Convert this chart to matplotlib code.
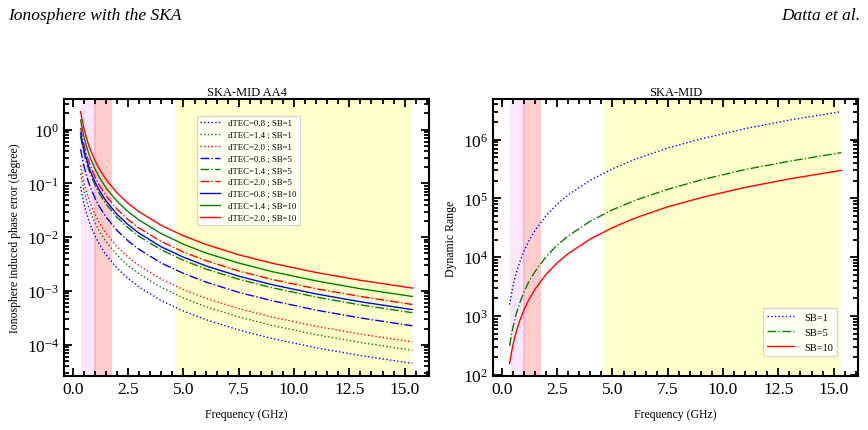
import matplotlib
matplotlib.use("Agg")
import matplotlib.pyplot as plt
from matplotlib.ticker import MultipleLocator, LogLocator, NullFormatter

plt.rcParams['font.family'] = ['Liberation Serif', 'DejaVu Serif']
plt.rcParams['mathtext.fontset'] = 'stix'

# Frequency samples (GHz)
freq = [0.35, 0.4, 0.5, 0.6, 0.7, 0.8, 1.0, 1.2, 1.5, 2.0, 2.5, 3.0,
        4.0, 5.0, 6.0, 7.5, 9.0, 11.0, 13.0, 15.35]

# Left panel: ionosphere induced phase error (degree)
err_08_sb1 = [0.0865, 0.0663, 0.0424, 0.0294, 0.0216, 0.0166, 0.0106, 0.00736, 0.00471, 0.00265,
              0.0017, 0.00118, 6.6e-4, 4.24e-4, 2.94e-4, 1.88e-4, 1.31e-4, 8.8e-5, 6.3e-5, 4.5e-5]
err_14_sb1 = [0.151, 0.116, 0.0742, 0.0515, 0.0378, 0.0291, 0.0186, 0.0129, 0.00824, 0.00464,
              0.00298, 0.00207, 1.16e-3, 7.4e-4, 5.1e-4, 3.3e-4, 2.29e-4, 1.54e-4, 1.10e-4, 7.9e-5]
err_20_sb1 = [0.216, 0.166, 0.106, 0.0735, 0.054, 0.0415, 0.0265, 0.0184, 0.0118, 0.00663,
              0.00425, 0.00295, 1.65e-3, 1.06e-3, 7.35e-4, 4.7e-4, 3.28e-4, 2.2e-4, 1.58e-4, 1.13e-4]
err_08_sb5 = [0.433, 0.332, 0.212, 0.147, 0.108, 0.083, 0.053, 0.0368, 0.0236, 0.0133,
              0.0085, 0.0059, 3.3e-3, 2.12e-3, 1.47e-3, 9.4e-4, 6.6e-4, 4.4e-4, 3.15e-4, 2.25e-4]
err_14_sb5 = [0.757, 0.58, 0.371, 0.257, 0.189, 0.145, 0.0928, 0.0644, 0.0412, 0.0232,
              0.0149, 0.0103, 5.8e-3, 3.71e-3, 2.57e-3, 1.65e-3, 1.15e-3, 7.7e-4, 5.5e-4, 3.94e-4]
err_20_sb5 = [1.08, 0.829, 0.53, 0.368, 0.27, 0.207, 0.1325, 0.092, 0.0589, 0.0331,
              0.0212, 0.0147, 8.3e-3, 5.3e-3, 3.68e-3, 2.35e-3, 1.64e-3, 1.1e-3, 7.9e-4, 5.6e-4]
err_08_sb10 = [0.865, 0.663, 0.424, 0.294, 0.216, 0.166, 0.106, 0.0736, 0.0471, 0.0265,
               0.017, 0.0118, 6.6e-3, 4.24e-3, 2.94e-3, 1.88e-3, 1.31e-3, 8.8e-4, 6.3e-4, 4.5e-4]
err_14_sb10 = [1.51, 1.16, 0.742, 0.515, 0.378, 0.291, 0.186, 0.129, 0.0824, 0.0464,
               0.0298, 0.0207, 0.0116, 7.4e-3, 5.1e-3, 3.3e-3, 2.29e-3, 1.54e-3, 1.10e-3, 7.9e-4]
err_20_sb10 = [2.16, 1.66, 1.06, 0.735, 0.54, 0.415, 0.265, 0.184, 0.118, 0.0663,
               0.0425, 0.0295, 0.0165, 0.0106, 7.35e-3, 4.7e-3, 3.28e-3, 2.2e-3, 1.58e-3, 1.13e-3]

# Right panel: dynamic range
dr_sb1 = [1.56e3, 2.0e3, 3.2e3, 4.6e3, 6.2e3, 8.1e3, 1.27e4, 1.83e4, 2.86e4, 5.1e4,
          8.0e4, 1.15e5, 2.04e5, 3.18e5, 4.6e5, 7.2e5, 1.03e6, 1.54e6, 2.15e6, 3.0e6]
dr_sb5 = [3.1e2, 4.1e2, 6.4e2, 9.2e2, 1.25e3, 1.63e3, 2.55e3, 3.7e3, 5.7e3, 1.02e4,
          1.6e4, 2.3e4, 4.1e4, 6.4e4, 9.2e4, 1.43e5, 2.06e5, 3.1e5, 4.3e5, 6.0e5]
dr_sb10 = [1.56e2, 2.0e2, 3.2e2, 4.6e2, 6.2e2, 8.1e2, 1.27e3, 1.83e3, 2.86e3, 5.1e3,
           8.0e3, 1.15e4, 2.04e4, 3.18e4, 4.6e4, 7.2e4, 1.03e5, 1.54e5, 2.15e5, 3.0e5]

# SKA-MID bands (GHz)
band1 = (0.35, 1.05)
band2 = (0.95, 1.76)
band5 = (4.6, 15.3)

fig = plt.figure(figsize=(8.68, 4.31), dpi=100)
ax1 = fig.add_axes([64 / 868, 1 - 377 / 431, 365 / 868, 277 / 431])
ax2 = fig.add_axes([493 / 868, 1 - 377 / 431, 365 / 868, 277 / 431])

fig.text(8 / 868, 1 - 16 / 431, 'Ionosphere with the SKA', style='italic',
         fontsize=12.5, va='center', ha='left')
fig.text(860 / 868, 1 - 16 / 431, 'Datta et al.', style='italic',
         fontsize=12.5, va='center', ha='right')


def shade(ax):
    ax.axvspan(*band1, color='violet', alpha=0.2, lw=0)
    ax.axvspan(*band2, color='red', alpha=0.2, lw=0)
    ax.axvspan(*band5, color='yellow', alpha=0.2, lw=0)


def style(ax):
    ax.set_yscale('log')
    ax.xaxis.set_major_locator(MultipleLocator(2.5))
    ax.xaxis.set_minor_locator(MultipleLocator(0.5))
    ax.yaxis.set_major_locator(LogLocator(base=10, numticks=20))
    ax.yaxis.set_minor_locator(LogLocator(base=10, subs=range(2, 10), numticks=20))
    ax.yaxis.set_minor_formatter(NullFormatter())
    ax.tick_params(which='both', direction='in', top=True, right=True, width=1.3)
    ax.tick_params(which='major', length=6, labelsize=12.5)
    ax.tick_params(which='minor', length=3.5)
    for s in ax.spines.values():
        s.set_linewidth(1.5)
    ax.set_xlabel('Frequency (GHz)', fontsize=8.5, labelpad=8)


shade(ax1)
left_series = [
    (err_08_sb1, 'b', ':', 'dTEC=0.8 ; SB=1'),
    (err_14_sb1, 'g', ':', 'dTEC=1.4 ; SB=1'),
    (err_20_sb1, 'r', ':', 'dTEC=2.0 ; SB=1'),
    (err_08_sb5, 'b', '-.', 'dTEC=0.8 ; SB=5'),
    (err_14_sb5, 'g', '-.', 'dTEC=1.4 ; SB=5'),
    (err_20_sb5, 'r', '-.', 'dTEC=2.0 ; SB=5'),
    (err_08_sb10, 'b', '-', 'dTEC=0.8 ; SB=10'),
    (err_14_sb10, 'g', '-', 'dTEC=1.4 ; SB=10'),
    (err_20_sb10, 'r', '-', 'dTEC=2.0 ; SB=10'),
]
for vals, c, ls, lab in left_series:
    ax1.plot(freq, vals, color=c, ls=ls, lw=1.0, label=lab)
style(ax1)
ax1.set_title('SKA-MID AA4', fontsize=9, pad=3)
ax1.set_ylabel('Ionosphere induced phase error (degree)', fontsize=8.5)
ax1.legend(loc='upper left', bbox_to_anchor=(0.364, 0.94), fontsize=6.3,
           labelspacing=0.42, handlelength=2.3, handletextpad=0.9,
           borderaxespad=0, framealpha=0.8)

shade(ax2)
ax2.plot(freq, dr_sb1, color='b', ls=':', lw=1.0, label='SB=1')
ax2.plot(freq, dr_sb5, color='g', ls='-.', lw=1.0, label='SB=5')
ax2.plot(freq, dr_sb10, color='r', ls='-', lw=1.0, label='SB=10')
style(ax2)
ax2.set_title('SKA-MID', fontsize=9, pad=3)
ax2.set_ylabel('Dynamic Range', fontsize=8.5)
ax2.legend(loc='lower right', bbox_to_anchor=(0.942, 0.072), fontsize=7.5,
           labelspacing=0.55, handlelength=2.6, handletextpad=0.9,
           borderaxespad=0, framealpha=0.8)

fig.savefig('out.png', dpi=100)
